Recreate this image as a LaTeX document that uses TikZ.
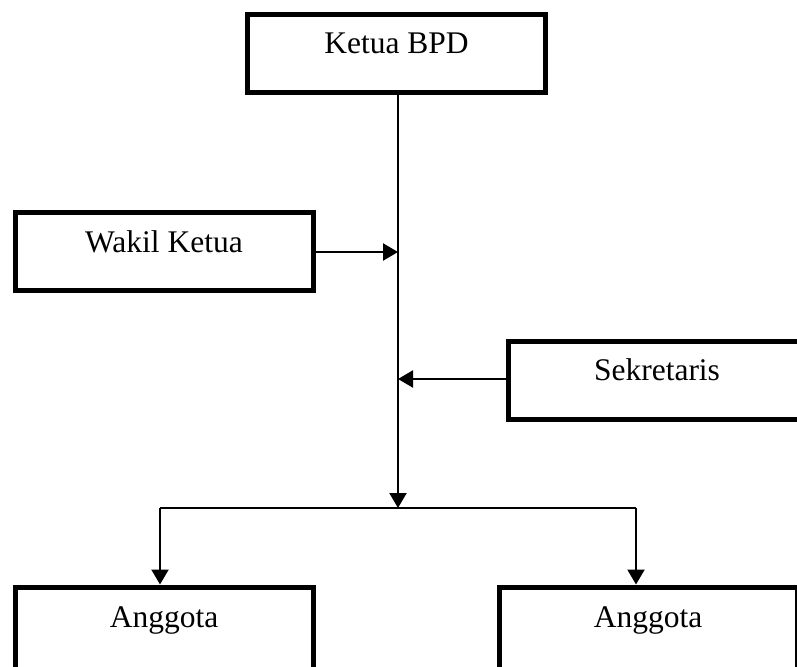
\documentclass[tikz,border=0pt]{standalone}
\usepackage{fontspec}
\setmainfont{Liberation Serif}
\usetikzlibrary{arrows.meta}
\begin{document}
\begin{tikzpicture}[x=1pt,y=-1pt,
  orgbox/.style={draw=black,line width=5pt,rectangle,minimum width=298pt,minimum height=78pt,inner sep=0pt,fill=white},
  lbl/.style={anchor=base,font=\fontsize{31.5}{36}\selectfont,inner sep=0pt},
  conn/.style={draw=black,line width=2.2pt},
  arr/.style={conn,-{Triangle[length=15pt,width=17pt]}}]
\useasboundingbox (0,0) rectangle (797,666);
\clip (0,0) rectangle (797,666);
\fill[white] (0,0) rectangle (797,666);
% boxes
\node[orgbox] (ketua) at (396.5,53.5) {};
\node[orgbox] (wakil) at (164,251) {};
\node[orgbox] (sekr) at (657,380.5) {};
\node[orgbox,minimum height=82pt] (ang1) at (164,628) {};
\node[orgbox,minimum height=82pt] (ang2) at (648,628) {};
% labels
\node[lbl] (tketua) at (ketua.center) {Ketua BPD};
\node[lbl] (twakil) at ([yshift=-1pt]wakil.center) {Wakil Ketua};
\node[lbl] (tsekr) at (sekr.center) {Sekretaris};
\node[lbl] (tang1) at ([yshift=1pt]ang1.center) {Anggota};
\node[lbl] (tang2) at ([yshift=1pt]ang2.center) {Anggota};
% junction points
\coordinate (j) at (398,508);
\coordinate (w) at (398,252);
\coordinate (s) at (398,379);
\coordinate (l) at (160,508);
\coordinate (r) at (636,508);
% connectors
\draw[arr] (ketua.south -| j) -- (j);
\draw[arr] (wakil.east |- w) -- (w);
\draw[arr] (sekr.west |- s) -- (s);
\draw[conn] (l) -- (r);
\draw[arr] (l) -- (l |- ang1.north);
\draw[arr] (r) -- (r |- ang2.north);
\end{tikzpicture}
\end{document}
